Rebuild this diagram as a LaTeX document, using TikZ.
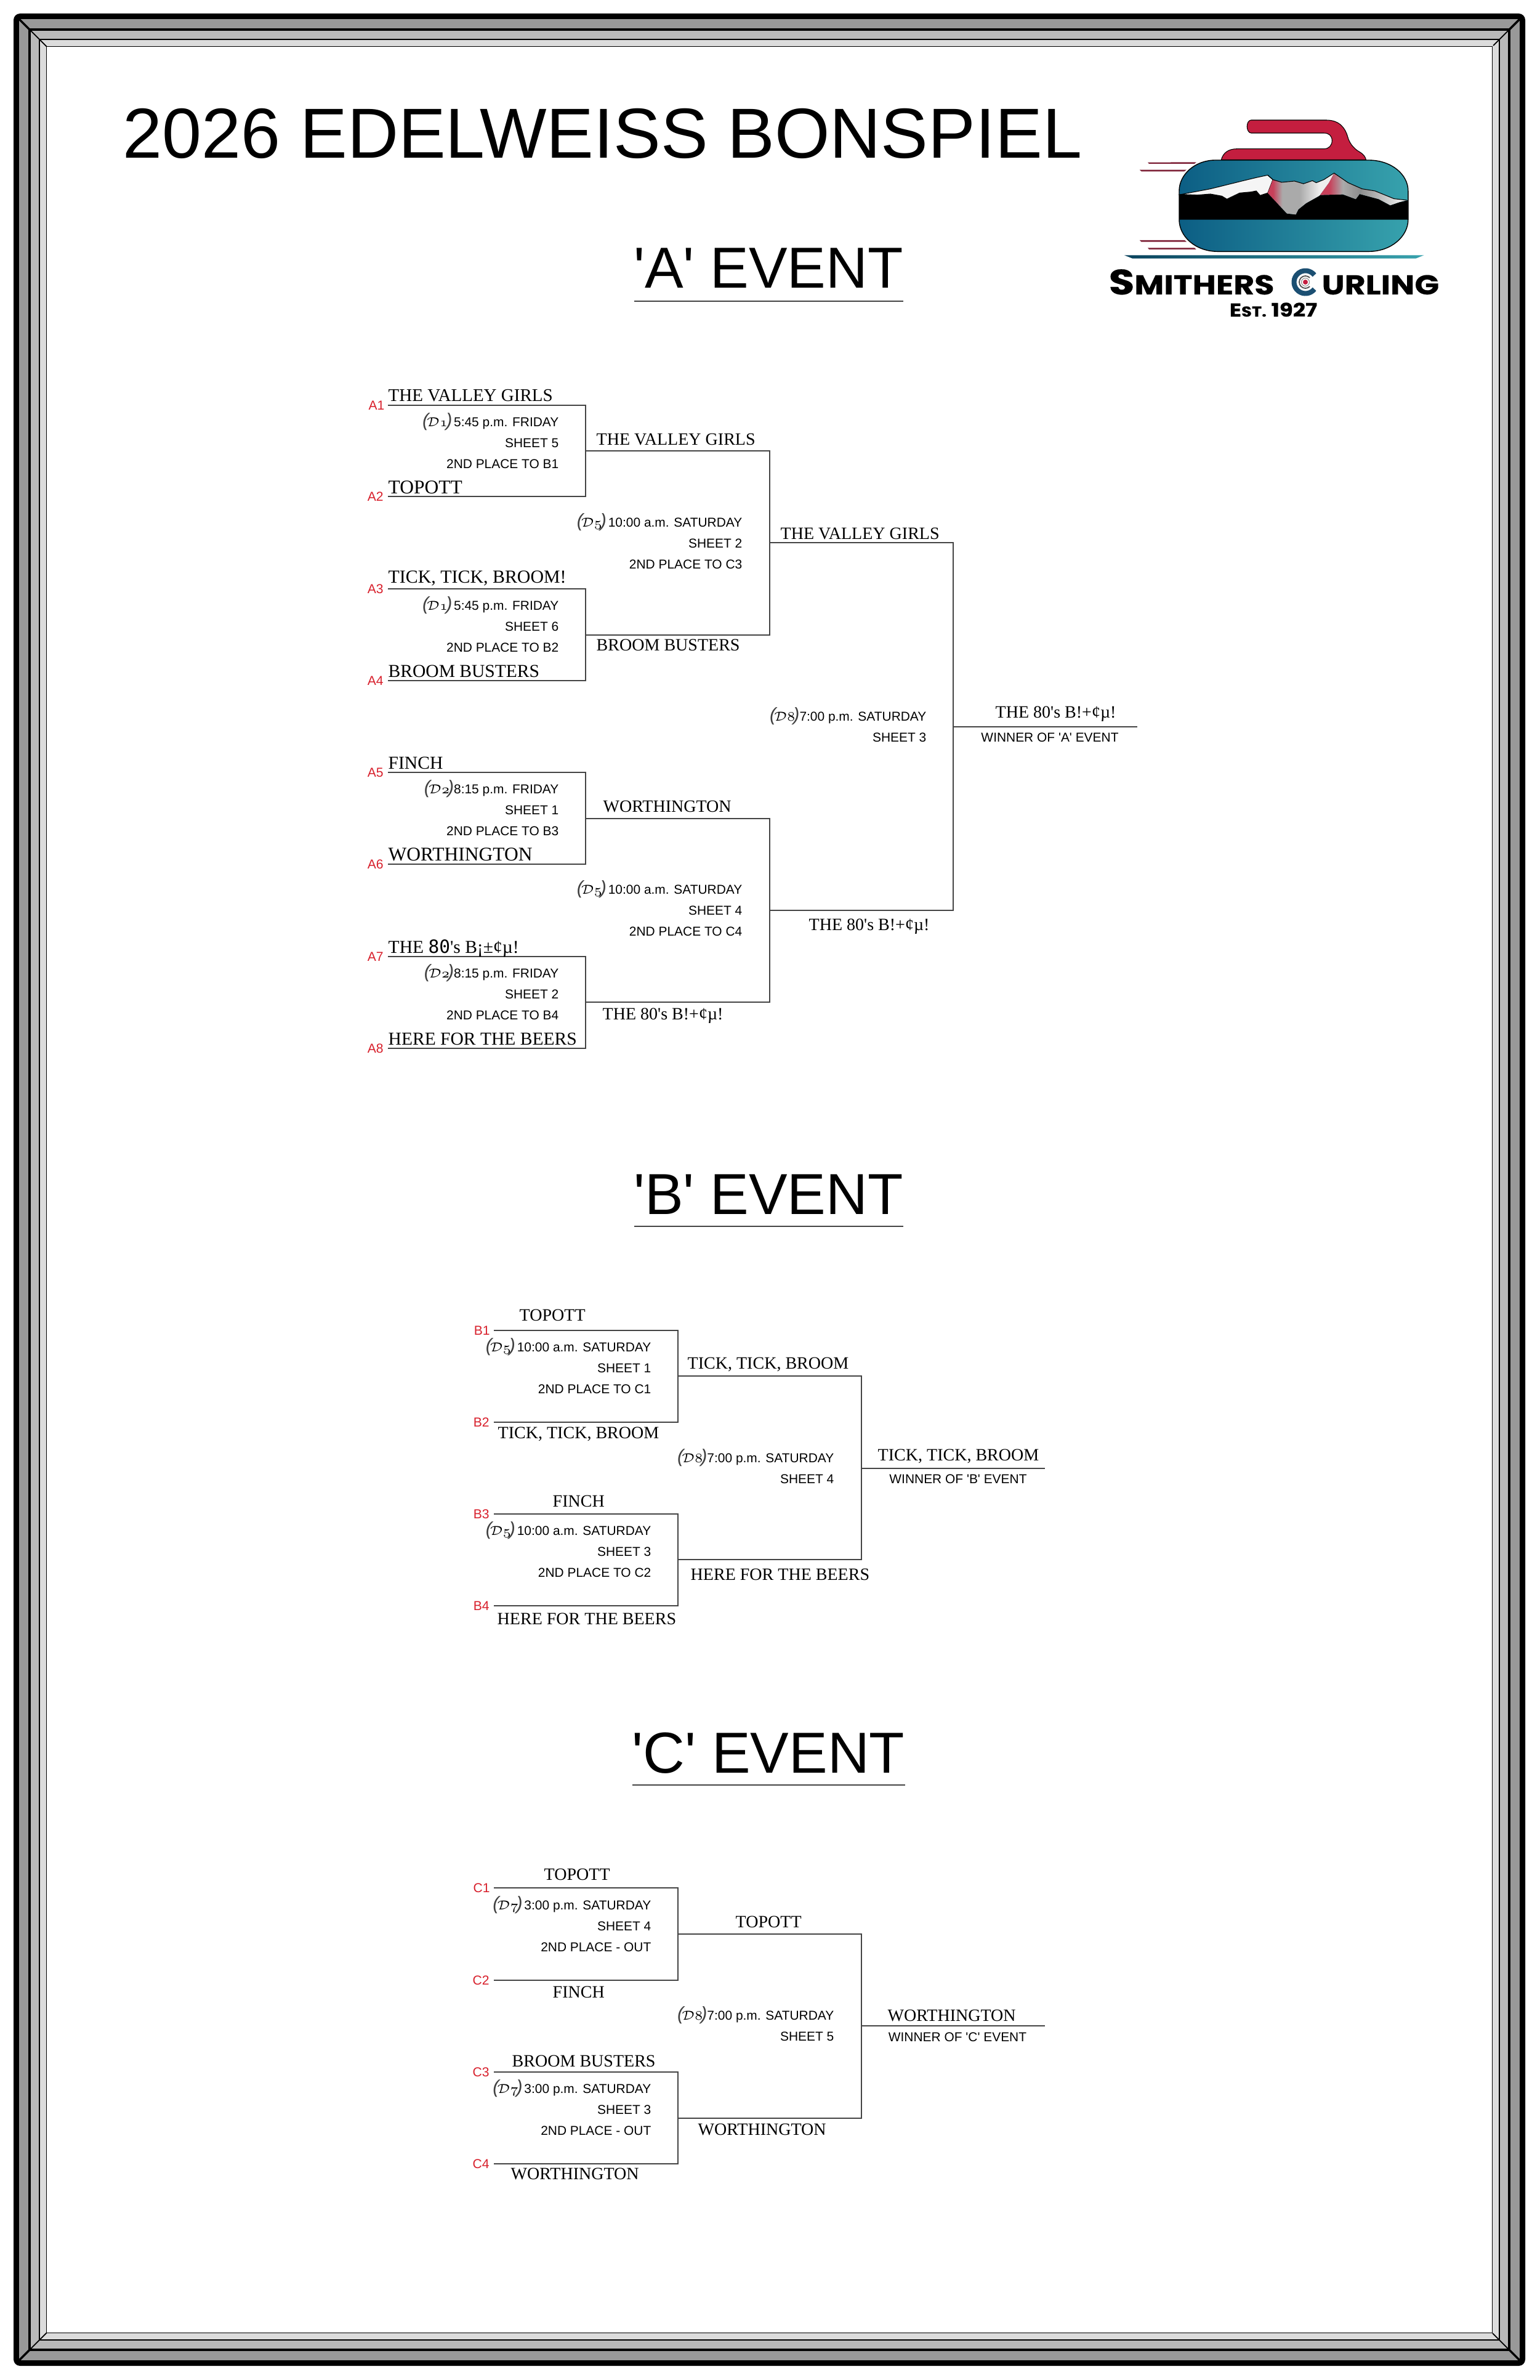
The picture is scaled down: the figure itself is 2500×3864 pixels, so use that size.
\documentclass[tikz,border=0pt]{standalone}
\usepackage[no-math]{fontspec}
\setmainfont[Ligatures=TeXOff]{Liberation Serif}
\setsansfont[Ligatures=TeXOff]{Liberation Sans}
\newfontfamily\slashfont{DejaVu Sans Mono}
\newfontfamily\logofont[FakeStretch=1.18,FakeBold=0.4]{Poppins}
\usepackage{xcolor}
\usepackage{tikz}
\usetikzlibrary{positioning}

\definecolor{framedark}{HTML}{999999}
\definecolor{framemid}{HTML}{B9B9B9}
\definecolor{framelight}{HTML}{DCDCDC}
\definecolor{seedred}{HTML}{D8202C}
\definecolor{rulegrey}{HTML}{444444}
\definecolor{rockdark}{HTML}{0C5E84}
\definecolor{rocklight}{HTML}{37A2AD}
\definecolor{handlered}{HTML}{C41E3F}
\definecolor{speedred}{HTML}{7E2238}
\definecolor{peakred}{HTML}{C8405A}
\definecolor{ringblue}{HTML}{1B4F72}
\definecolor{peakgrey}{HTML}{AAAAAA}
\definecolor{peaklight}{HTML}{EEEEEE}
\definecolor{peakdark}{HTML}{8A8A8A}

\pgfdeclarehorizontalshading{peakcentre}{100bp}{color(0bp)=(peakred); color(29bp)=(peakred); color(36bp)=(peakgrey); color(49bp)=(peakgrey); color(64bp)=(peaklight); color(100bp)=(peaklight)}
\pgfdeclarehorizontalshading{peakright}{100bp}{color(0bp)=(peakred); color(36bp)=(peakred); color(52bp)=(peakgrey); color(75bp)=(peakdark); color(100bp)=(peakdark)}

% the day tag in front of each draw time
\newcommand{\daytag}[1]{{\fontsize{8.6}{9.76}\selectfont\itshape\color{black!75}(\kern-0.9pt}$\mathcal{D}\mathnormal{#1}${\fontsize{8.6}{9.76}\selectfont\itshape\color{black!75}\kern-0.9pt)}}

\begin{document}
\begin{tikzpicture}[
  x=0.01cm, y=-0.01cm,
  bracket/.style={draw=rulegrey, line width=0.55pt},
  team/.style={anchor=base west, inner sep=0pt, font=\rmfamily\fontsize{7.97}{9}\selectfont},
  teamlg/.style={team, font=\rmfamily\fontsize{8.4}{10}\selectfont},
  teamxl/.style={team, font=\rmfamily\fontsize{8.96}{10}\selectfont},
  info/.style={anchor=north east, yshift=0.7pt, inner sep=0pt, align=right, font=\sffamily\fontsize{5.95}{9.76}\selectfont},
  caption/.style={anchor=base, inner sep=0pt, font=\sffamily\fontsize{5.95}{7}\selectfont},
  seed/.style={inner sep=0pt, text=seedred, font=\sffamily\fontsize{6}{7}\selectfont},
  eventhead/.style={anchor=base, inner sep=0pt, font=\sffamily\fontsize{26.7}{30}\selectfont}
]
\path[use as bounding box, fill=white] (0,0) rectangle (2500,3864);

% frame
\fill[black, rounded corners=3] (22,22) rectangle (2477,3841);
\foreach \ins/\col in {9/framedark, 24/black, 28/framemid, 41/black, 43/framelight, 53/black, 54/white}
  \fill[\col] (22+\ins,22+\ins) rectangle (2477-\ins,3841-\ins);
\foreach \xa/\ya/\xb/\yb in {31/31/76/76, 2468/31/2425/74, 31/3832/76/3787, 2468/3832/2424/3788}
  \draw[black, line width=0.5pt] (\xa,\ya) -- (\xb,\yb);
\foreach \xa/\ya/\xb/\yb in {31/31/50/50, 2468/31/2449/50, 31/3832/50/3813, 2468/3832/2449/3813}
  \draw[black, line width=1pt] (\xa,\ya) -- (\xb,\yb);

% titles
\node[anchor=base west, inner sep=0pt, font=\sffamily\fontsize{32.7}{36}\selectfont] (title) at (199,257) {2026 EDELWEISS BONSPIEL};
\node[eventhead] (heada) at (1248,468) {'A' EVENT};
\node[eventhead] (headb) at (1248,1971) {'B' EVENT};
\node[eventhead] (headc) at (1248,2878) {'C' EVENT};
\coordinate (ula) at (1030,489); \coordinate (ulb) at (1030,1991); \coordinate (ulc) at (1027,2898);
\draw[bracket] (ula) -- ++(437,0);
\draw[bracket] (ulb) -- ++(437,0);
\draw[bracket] (ulc) -- ++(443,0);

% logo
\begin{scope}[shift={(1750,150)}, xscale=0.4145, yscale=0.33333]
  \fill[speedred] (275,341) -- (465,340) -- (458,348) -- (280,348) -- cycle;
  \fill[speedred] (243,377) -- (427,377) -- (418,385) -- (250,385) -- cycle;
  \fill[speedred] (243,720) -- (420,720) -- (427,728) -- (250,728) -- cycle;
  \fill[speedred] (275,757) -- (458,757) -- (465,765) -- (280,765) -- cycle;
  \shade[left color=rockdark!70!black, right color=rocklight] (183,793) -- (1357,793) -- (1325,809) -- (215,809) -- cycle;
  \draw[fill=handlered, line width=0.3pt] (680,135) -- (975,135) .. controls (1030,135) and (1050,180) .. (1058,215) .. controls (1066,255) and (1090,280) .. (1105,290) .. controls (1120,300) and (1128,315) .. (1130,328) -- (563,328) .. controls (570,295) and (590,275) .. (625,275) -- (965,275) .. controls (985,275) and (997,258) .. (997,235) .. controls (997,212) and (985,198) .. (965,198) -- (680,198) .. controls (670,198) and (664,180) .. (664,167) .. controls (664,150) and (670,135) .. (680,135) -- cycle;
  \shade[left color=rockdark, right color=rocklight, draw=black, line width=0.4pt] (540,330) -- (1140,330) .. controls (1230,330) and (1295,400) .. (1295,480) -- (1295,620) .. controls (1295,700) and (1230,775) .. (1140,775) -- (550,775) .. controls (460,775) and (398,700) .. (398,620) -- (398,480) .. controls (398,400) and (460,330) .. (540,330) -- cycle;
  \fill[black] (398,497) -- (470,500) -- (520,495) -- (565,505) -- (585,520) -- (610,505) -- (635,490) -- (680,485) -- (700,480) -- (715,502) -- (745,490) -- (820,590) -- (855,595) -- (865,570) -- (895,540) -- (945,505) -- (950,500) -- (1040,497) -- (1090,520) -- (1105,495) -- (1180,520) -- (1225,550) -- (1260,535) -- (1295,525) -- (1295,620) -- (398,620) -- cycle;
  \draw[fill=black!4, line width=0.3pt] (405,497) -- (520,470) -- (650,430) -- (700,415) -- (745,403) -- (765,425) -- (745,490) -- (715,502) -- (700,480) -- (680,485) -- (635,490) -- (585,520) -- (565,505) -- (520,495) -- (470,500) -- cycle;
  \shade[shading=peakcentre] (765,425) -- (800,438) -- (850,432) -- (885,445) -- (920,430) -- (935,440) -- (965,425) -- (1005,393) -- (985,440) -- (950,500) -- (945,505) -- (895,540) -- (865,570) -- (855,595) -- (820,590) -- (745,490) -- cycle;
  \shade[shading=peakright] (1005,393) -- (1060,440) -- (1115,470) -- (1105,495) -- (1090,520) -- (1040,497) -- (950,500) -- (985,440) -- cycle;
  \shade[left color=black!45, right color=black!2] (1115,470) -- (1165,480) -- (1240,518) -- (1290,525) -- (1260,535) -- (1225,550) -- (1180,520) -- (1105,495) -- cycle;
  \draw[line width=0.3pt] (745,403) -- (765,425) -- (800,438) -- (850,432) -- (885,445) -- (920,430) -- (935,440) -- (965,425) -- (1005,393) -- (1060,440) -- (1115,470) -- (1165,480) -- (1240,518) -- (1290,525);
\end{scope}
\node[anchor=base west, inner sep=0pt, font=\logofont\bfseries\fontsize{12.6}{14}\selectfont] (smithers) at (1800,478) {{\fontsize{16.3}{14}\selectfont S}MITHERS};
\node[anchor=base west, inner sep=0pt, font=\logofont\bfseries\fontsize{12.6}{14}\selectfont] (curling) at (2146,478) {URLING};
\node[anchor=base, inner sep=0pt, font=\logofont\bfseries\fontsize{8.6}{9}\selectfont] (est) at (2068,514) {E{\fontsize{6.6}{9}\selectfont ST.} 1927};
\draw[ringblue, line width=2.3pt] (2120,458) ++(38:18.5) arc[start angle=38, end angle=322, radius=18.5];
\draw[black!70, line width=0.5pt] (2120,458) ++(45:10) arc[start angle=45, end angle=315, radius=10];
\draw[black!45, line width=0.3pt] (2120,458) circle[radius=6.5];
\fill[handlered] (2120,458) circle[radius=4];

% A event
\coordinate (a1) at (630,658); \coordinate (a2) at (630,806);
\coordinate (a3) at (630,956); \coordinate (a4) at (630,1105);
\coordinate (a5) at (630,1254); \coordinate (a6) at (630,1403);
\coordinate (a7) at (630,1553); \coordinate (a8) at (630,1702);
\coordinate (a12) at (951,732); \coordinate (a34) at (951,1031);
\coordinate (a56) at (951,1329); \coordinate (a78) at (951,1627);
\coordinate (a14) at (1250,881); \coordinate (a58) at (1250,1478);
\coordinate (a18) at (1548,1180); \coordinate (awin) at (1847,1180);
\draw[bracket] (a1) -| (a12) |- (a2);
\draw[bracket] (a3) -| (a34) |- (a4);
\draw[bracket] (a5) -| (a56) |- (a6);
\draw[bracket] (a7) -| (a78) |- (a8);
\draw[bracket] (a12) -| (a14) |- (a34);
\draw[bracket] (a56) -| (a58) |- (a78);
\draw[bracket] (a14) -| (a18) |- (a58);
\draw[bracket] (a18) -- (awin);
\node[seed, left=1.4pt of a1] (sa1) {A1};
\node[seed, left=1.9pt of a2] (sa2) {A2};
\node[seed, left=1.9pt of a3] (sa3) {A3};
\node[seed, left=1.9pt of a4] (sa4) {A4};
\node[seed, left=1.9pt of a5] (sa5) {A5};
\node[seed, left=1.9pt of a6] (sa6) {A6};
\node[seed, left=1.9pt of a7] (sa7) {A7};
\node[seed, left=1.9pt of a8] (sa8) {A8};
\node[teamlg, font=\rmfamily\fontsize{8.25}{10}\selectfont] (ta1) at (630,652) {THE VALLEY GIRLS};
\node[teamxl] (ta2) at (630,801) {TOPOTT};
\node[teamlg, font=\rmfamily\fontsize{8.5}{10}\selectfont] (ta3) at (630,946) {TICK, TICK, BROOM!};
\node[teamlg] (ta4) at (630,1099) {BROOM BUSTERS};
\node[teamlg] (ta5) at (630,1248) {FINCH};
\node[teamxl] (ta6) at (630,1397) {WORTHINGTON};
\node[teamlg] (ta7) at (630,1547) {THE {\slashfont 80}'s B¡±¢µ!};
\node[teamlg] (ta8) at (630,1696) {HERE FOR THE BEERS};
\node[team] (ta12) at (968,722) {THE VALLEY GIRLS};
\node[team] (ta34) at (968,1056) {BROOM BUSTERS};
\node[team] (ta56) at (979,1318) {WORTHINGTON};
\node[team] (ta78) at (978,1655) {THE 80's B!+¢µ!};
\node[team] (ta14) at (1267,875) {THE VALLEY GIRLS};
\node[team] (ta58) at (1313,1510) {THE 80's B!+¢µ!};
\node[team] (tawin) at (1616,1165) {THE 80's B!+¢µ!};
\node[caption] (capa) at (1705,1204) {WINNER OF 'A' EVENT};
\node[info] (ia12) at (908,672) {\daytag{1}\kern0.8pt 5:45 p.m. FRIDAY\\SHEET 5\\2ND PLACE TO B1};
\node[info] (ia34) at (908,970) {\daytag{1}\kern0.8pt 5:45 p.m. FRIDAY\\SHEET 6\\2ND PLACE TO B2};
\node[info] (ia56) at (908,1268) {\daytag{2}8:15 p.m. FRIDAY\\SHEET 1\\2ND PLACE TO B3};
\node[info] (ia78) at (908,1567) {\daytag{2}8:15 p.m. FRIDAY\\SHEET 2\\2ND PLACE TO B4};
\node[info] (ia14) at (1206,835) {\daytag{5}\kern0.8pt 10:00 a.m. SATURDAY\\SHEET 2\\2ND PLACE TO C3};
\node[info] (ia58) at (1206,1431) {\daytag{5}\kern0.8pt 10:00 a.m. SATURDAY\\SHEET 4\\2ND PLACE TO C4};
\node[info] (ia18) at (1505,1150) {\daytag{8}7:00 p.m. SATURDAY\\SHEET 3};

% B event
\coordinate (b1) at (802,2160); \coordinate (b2) at (802,2309);
\coordinate (b3) at (802,2458); \coordinate (b4) at (802,2607);
\coordinate (b12) at (1101,2234); \coordinate (b34) at (1101,2532);
\coordinate (b14) at (1399,2384); \coordinate (bwin) at (1697,2384);
\draw[bracket] (b1) -| (b12) |- (b2);
\draw[bracket] (b3) -| (b34) |- (b4);
\draw[bracket] (b12) -| (b14) |- (b34);
\draw[bracket] (b14) -- (bwin);
\node[seed, left=1.6pt of b1] (sb1) {B1};
\node[seed, left=1.9pt of b2] (sb2) {B2};
\node[seed, left=1.9pt of b3] (sb3) {B3};
\node[seed, left=1.9pt of b4] (sb4) {B4};
\node[team] (tb1) at (843,2144) {TOPOTT};
\node[team] (tb2) at (808,2335) {TICK, TICK, BROOM};
\node[team] (tb3) at (897,2446) {FINCH};
\node[team] (tb4) at (807,2637) {HERE FOR THE BEERS};
\node[team] (tb12) at (1116,2222) {TICK, TICK, BROOM};
\node[team] (tb34) at (1121,2565) {HERE FOR THE BEERS};
\node[team] (tbwin) at (1425,2371) {TICK, TICK, BROOM};
\node[caption] (capb) at (1556,2408) {WINNER OF 'B' EVENT};
\node[info] (ib12) at (1058,2174) {\daytag{5}\kern0.8pt 10:00 a.m. SATURDAY\\SHEET 1\\2ND PLACE TO C1};
\node[info] (ib34) at (1058,2472) {\daytag{5}\kern0.8pt 10:00 a.m. SATURDAY\\SHEET 3\\2ND PLACE TO C2};
\node[info] (ib14) at (1355,2354) {\daytag{8}7:00 p.m. SATURDAY\\SHEET 4};

% C event
\coordinate (c1) at (802,3065); \coordinate (c2) at (802,3215);
\coordinate (c3) at (802,3364); \coordinate (c4) at (802,3513);
\coordinate (c12) at (1101,3140); \coordinate (c34) at (1101,3439);
\coordinate (c14) at (1399,3289); \coordinate (cwin) at (1697,3289);
\draw[bracket] (c1) -| (c12) |- (c2);
\draw[bracket] (c3) -| (c34) |- (c4);
\draw[bracket] (c12) -| (c14) |- (c34);
\draw[bracket] (c14) -- (cwin);
\node[seed, left=1.6pt of c1] (sc1) {C1};
\node[seed, left=1.9pt of c2] (sc2) {C2};
\node[seed, left=1.9pt of c3] (sc3) {C3};
\node[seed, left=1.9pt of c4] (sc4) {C4};
\node[team] (tc1) at (883,3052) {TOPOTT};
\node[team] (tc2) at (897,3243) {FINCH};
\node[team] (tc3) at (831,3355) {BROOM BUSTERS};
\node[team] (tc4) at (829,3538) {WORTHINGTON};
\node[team] (tc12) at (1194,3129) {TOPOTT};
\node[team] (tc34) at (1133,3466) {WORTHINGTON};
\node[team] (tcwin) at (1441,3281) {WORTHINGTON};
\node[caption] (capc) at (1555,3314) {WINNER OF 'C' EVENT};
\node[info] (ic12) at (1058,3080) {\daytag{7}\kern0.8pt 3:00 p.m. SATURDAY\\SHEET 4\\2ND PLACE - OUT};
\node[info] (ic34) at (1058,3378) {\daytag{7}\kern0.8pt 3:00 p.m. SATURDAY\\SHEET 3\\2ND PLACE - OUT};
\node[info] (ic14) at (1355,3259) {\daytag{8}7:00 p.m. SATURDAY\\SHEET 5};
\end{tikzpicture}
\end{document}
